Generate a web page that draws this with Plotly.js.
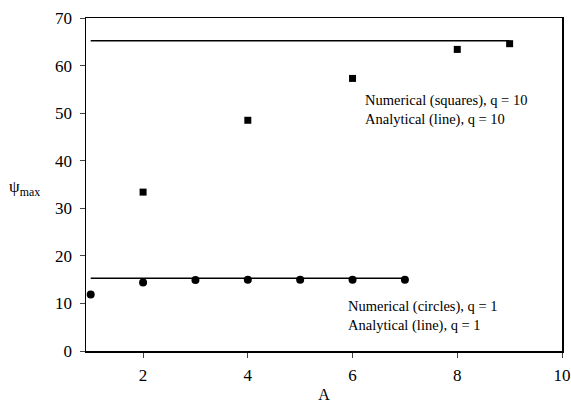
<!DOCTYPE html>
<html>
<head>
<meta charset="utf-8">
<script src="https://cdn.plot.ly/plotly-3.0.1.min.js"></script>
<style>html,body{margin:0;padding:0;background:#fff;}#chart{width:571px;height:404px;}</style>
</head>
<body>
<div id="chart"></div>
<script>
// Numerical results, q = 10 (squares)
const squaresA = [2, 4, 6, 8, 9];
const squaresPsi = [33.4, 48.5, 57.3, 63.4, 64.6];
// Numerical results, q = 1 (circles)
const circlesA = [1, 2, 3, 4, 5, 6, 7];
const circlesPsi = [11.9, 14.4, 14.9, 15.0, 15.0, 15.0, 15.0];
// Analytical lines
const line10A = [1, 9];
const line10Psi = [65.2, 65.2];
const line1A = [1, 7];
const line1Psi = [15.3, 15.3];

const font = "Liberation Serif, Times New Roman, serif";

const traces = [
  {x: line10A, y: line10Psi, mode: 'lines', line: {color: '#000', width: 1.5}, showlegend: false},
  {x: line1A, y: line1Psi, mode: 'lines', line: {color: '#000', width: 1.5}, showlegend: false},
  {x: squaresA, y: squaresPsi, mode: 'markers', marker: {symbol: 'square', size: 7, color: '#000'}, showlegend: false},
  {x: circlesA, y: circlesPsi, mode: 'markers', marker: {symbol: 'circle', size: 8, color: '#000'}, showlegend: false}
];

const layout = {
  width: 571, height: 404,
  margin: {l: 86, r: 9, t: 18, b: 53},
  paper_bgcolor: '#fff', plot_bgcolor: '#fff',
  font: {family: font, size: 17, color: '#000'},
  xaxis: {
    range: [0.91, 10], tickvals: [2, 4, 6, 8, 10], ticks: 'outside', ticklen: 5, tickwidth: 1,
    ticklabelstandoff: 3, tickfont: {family: font, size: 17},
    showgrid: false, zeroline: false, showline: true, linecolor: '#000', linewidth: 1.5, mirror: true,
    title: {text: 'A', font: {family: font, size: 16}, standoff: 5}
  },
  yaxis: {
    range: [0, 70], dtick: 10, ticks: 'outside', ticklen: 5, tickwidth: 1,
    ticklabelstandoff: 4, tickfont: {family: font, size: 17},
    showgrid: false, zeroline: false, showline: true, linecolor: '#000', linewidth: 1.5, mirror: true
  },
  annotations: [
    {xref: 'paper', yref: 'paper', x: -0.165, y: 0.49, xanchor: 'left', yanchor: 'middle', showarrow: false,
     text: 'ψ<sub>max</sub>', font: {family: font, size: 17}},
    {xref: 'x', yref: 'y', x: 6.2, y: 50.6, xanchor: 'left', yanchor: 'middle', showarrow: false, align: 'left',
     text: 'Numerical (squares), q = 10<br>Analytical (line), q = 10', font: {family: font, size: 14.5}},
    {xref: 'x', yref: 'y', x: 5.87, y: 7.3, xanchor: 'left', yanchor: 'middle', showarrow: false, align: 'left',
     text: 'Numerical (circles), q = 1<br>Analytical (line), q = 1', font: {family: font, size: 14.5}}
  ]
};

Plotly.newPlot('chart', traces, layout, {displayModeBar: false, staticPlot: true});
</script>
</body>
</html>
